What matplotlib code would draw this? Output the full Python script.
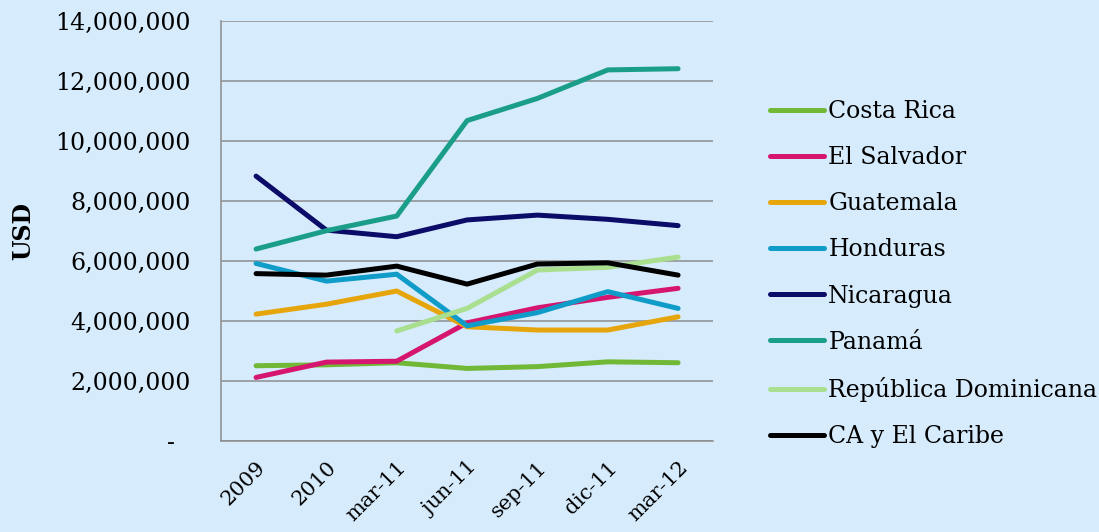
import numpy as np
import matplotlib
matplotlib.use('Agg')
import matplotlib.pyplot as plt
from matplotlib.ticker import FuncFormatter

# periods on the x axis
periods = ['2009', '2010', 'mar-11', 'jun-11', 'sep-11', 'dic-11', 'mar-12']

# values in USD
costa_rica = [2510000, 2540000, 2610000, 2420000, 2480000, 2640000, 2610000]
el_salvador = [2120000, 2630000, 2660000, 3940000, 4440000, 4790000, 5090000]
guatemala = [4230000, 4560000, 5000000, 3810000, 3700000, 3700000, 4140000]
honduras = [5920000, 5330000, 5560000, 3840000, 4280000, 4980000, 4420000]
nicaragua = [8830000, 7030000, 6810000, 7370000, 7530000, 7390000, 7180000]
panama = [6400000, 7010000, 7500000, 10680000, 11420000, 12370000, 12410000]
rep_dominicana = [np.nan, np.nan, 3670000, 4420000, 5700000, 5790000, 6130000]
ca_caribe = [5580000, 5530000, 5830000, 5230000, 5900000, 5940000, 5530000]

series = [
    ('Costa Rica', costa_rica, '#72B837'),
    ('El Salvador', el_salvador, '#D5156F'),
    ('Guatemala', guatemala, '#E7A50C'),
    ('Honduras', honduras, '#0F9CC8'),
    ('Nicaragua', nicaragua, '#0B0B68'),
    ('Panamá', panama, '#1B9E89'),
    ('República Dominicana', rep_dominicana, '#A9DF8F'),
    ('CA y El Caribe', ca_caribe, '#000000'),
]

bg = '#D6EBFC'
plt.rcParams['font.family'] = ['DejaVu Serif']
plt.rcParams['font.size'] = 17

fig = plt.figure(figsize=(10.99, 5.32), dpi=100, facecolor=bg)
ax = fig.add_axes([0.201, 0.171, 0.448, 0.7895])
ax.set_facecolor(bg)

x = np.arange(len(periods))
for name, vals, col in series:
    ax.plot(x, vals, color=col, lw=3.6, label=name, solid_capstyle='round',
            solid_joinstyle='round')

ax.set_xlim(-0.5, len(periods) - 0.5)
ax.set_ylim(0, 14000000)
ax.set_yticks(np.arange(0, 14000001, 2000000))
ax.yaxis.set_major_formatter(FuncFormatter(
    lambda v, p: '-  ' if v == 0 else f'{v:,.0f}'))
ax.set_xticks(x)
ax.set_xticklabels(periods, rotation=45, ha='right', rotation_mode='anchor',
                   fontsize=15)

ax.grid(axis='y', color='#8C8C8C', lw=1.1)
ax.set_axisbelow(True)
for s in ['top', 'right']:
    ax.spines[s].set_visible(False)
for s in ['left', 'bottom']:
    ax.spines[s].set_color('#8C8C8C')
    ax.spines[s].set_linewidth(1.1)
ax.tick_params(axis='y', length=0, pad=22)
ax.tick_params(axis='x', length=0, pad=12)

ax.set_ylabel('USD', fontweight='bold', labelpad=14)

fig.legend(loc='center left', bbox_to_anchor=(0.7006, 0.485), frameon=False,
           borderpad=0, borderaxespad=0, handlelength=2.3, handletextpad=0.17,
           labelspacing=0.98)

fig.savefig('out.png', dpi=100, facecolor=bg)
